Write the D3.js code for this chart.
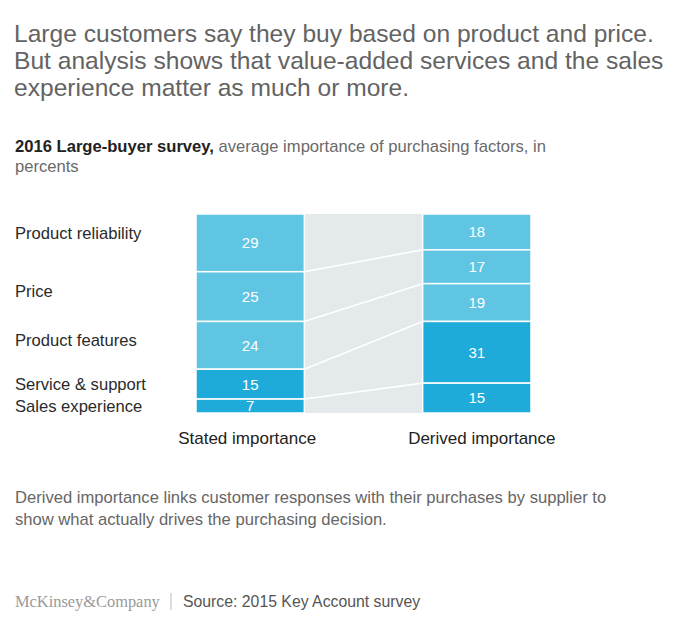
<!DOCTYPE html>
<html><head><meta charset="utf-8">
<script src="https://cdn.jsdelivr.net/npm/d3@7"></script>
<style>
body{margin:0;background:#fff;}
svg{display:block;font-family:"Liberation Sans",Arial,Helvetica,sans-serif;}
</style></head>
<body>
<svg id="chart" width="700" height="631"></svg>
<script>
const factors = ["Product reliability","Price","Product features","Service & support","Sales experience"];
const columns = ["Stated importance","Derived importance"];
const stated = [29,25,24,15,7];
const derived = [18,17,19,31,15];
const factorGroup = ["product","product","product","service","service"];

const titleLines = ["Large customers say they buy based on product and price.",
 "But analysis shows that value-added services and the sales",
 "experience matter as much or more."];
const noteLines = ["Derived importance links customer responses with their purchases by supplier to",
 "show what actually drives the purchasing decision."];

const svg = d3.select("#chart");
const W = 700, H = 631;
svg.append("rect").attr("width",W).attr("height",H).attr("fill","#fff");

// Title
svg.append("g").selectAll("text").data(titleLines).join("text")
  .attr("x",14).attr("y",(d,i)=>42+i*27)
  .attr("font-size",24.6).attr("fill","#636363").text(d=>d);

// Subtitle
const sub = svg.append("text").attr("x",15).attr("y",152).attr("font-size",16.6).attr("fill","#6a6a6a");
sub.append("tspan").attr("fill","#222").attr("font-weight","bold").text("2016 Large-buyer survey,");
sub.append("tspan").text(" average importance of purchasing factors, in");
svg.append("text").attr("x",15).attr("y",172).attr("font-size",16.6).attr("fill","#6a6a6a").text("percents");

// Scales
const y = d3.scaleLinear().domain([0,100]).range([214,413]);
const x = d3.scaleBand().domain(columns).range([196,531]).paddingInner(0.522).paddingOuter(0);
const color = d3.scaleOrdinal().domain(["product","service"]).range(["#60c4e3","#1eabda"]);

function stack(vals){ let c=0; return vals.map((v,i)=>{const s={i,v,y0:c,y1:c+v}; c+=v; return s;}); }
const sS = stack(stated), sD = stack(derived);

// gray band
svg.append("rect").attr("x",x(columns[0])+x.bandwidth()).attr("y",y(0))
  .attr("width",x(columns[1])-x(columns[0])-x.bandwidth()).attr("height",y(100)-y(0))
  .attr("fill","#e4e9eb");

// connector lines
const bounds = d3.range(1,factors.length);
svg.append("g").selectAll("line").data(bounds).join("line")
  .attr("x1",x(columns[0])+x.bandwidth()).attr("y1",d=>y(sS[d].y0))
  .attr("x2",x(columns[1])).attr("y2",d=>y(sD[d].y0))
  .attr("stroke","#fff").attr("stroke-width",1.6);

[[columns[0],sS],[columns[1],sD]].forEach(([col,data])=>{
  const g = svg.append("g");
  g.selectAll("rect").data(data).join("rect")
    .attr("x",x(col)).attr("y",d=>y(d.y0))
    .attr("width",x.bandwidth()).attr("height",d=>y(d.y1)-y(d.y0))
    .attr("fill",d=>color(factorGroup[d.i]))
    .attr("stroke","#fff").attr("stroke-width",1.5);
  g.selectAll("text").data(data).join("text")
    .attr("x",x(col)+x.bandwidth()/2).attr("y",d=>(y(d.y0)+y(d.y1))/2)
    .attr("dy","0.36em").attr("text-anchor","middle")
    .attr("font-size",15).attr("fill","#fff").text(d=>d.v);
});

// factor labels
svg.append("g").selectAll("text").data(sS).join("text")
  .attr("x",15).attr("y",d=>Math.min((y(d.y0)+y(d.y1))/2, y(d.y0)+19))
  .attr("dy","0.36em").attr("font-size",16.6).attr("fill","#2a2a2a")
  .text(d=>factors[d.i]);

// column labels
svg.append("g").selectAll("text").data(columns).join("text")
  .attr("x",(d,i)=>x(d)+x.bandwidth()/2+(i?5:-3)).attr("y",444)
  .attr("text-anchor","middle").attr("font-size",17).attr("fill","#222").text(d=>d);

// note
svg.append("g").selectAll("text").data(noteLines).join("text")
  .attr("x",15).attr("y",(d,i)=>503+i*21.5)
  .attr("font-size",16.6).attr("fill","#666").text(d=>d);

// footer
svg.append("text").attr("x",15).attr("y",607).attr("font-family","'Liberation Serif','Times New Roman',serif")
  .attr("font-size",16.4).attr("fill","#9a9a9a").text("McKinsey&Company");
svg.append("line").attr("x1",171).attr("x2",171).attr("y1",593).attr("y2",610).attr("stroke","#bbb").attr("stroke-width",1);
svg.append("text").attr("x",183).attr("y",607).attr("font-size",15.8).attr("fill","#555").text("Source: 2015 Key Account survey");
</script>
</body></html>
